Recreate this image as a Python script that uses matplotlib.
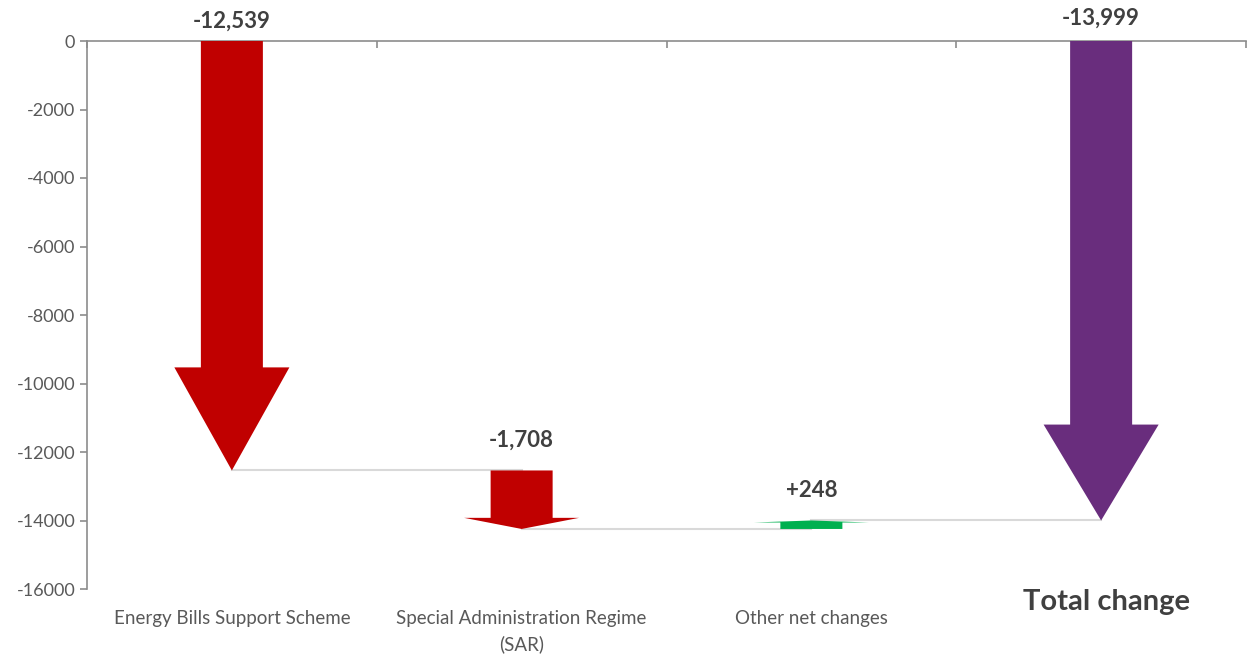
import numpy as np
import matplotlib.pyplot as plt
from matplotlib.patches import Polygon

plt.rcParams["font.family"] = ["Lato", "DejaVu Sans"]

# data
categories = ["Energy Bills Support Scheme", "Special Administration Regime\n(SAR)", "Other net changes"]
changes = [-12539, -1708, 248]
total_label = "Total change"
value_labels = ["-12,539", "-1,708", "+248", "-13,999"]
yticks = np.arange(-16000, 1, 2000)

RED = "#C00000"
GREEN = "#00B050"
PURPLE = "#692D7D"
TEXT = "#404040"
AXIS = "#8C8C8C"


def draw_arrow(ax, x, start, end, color, head_frac, shaft_w=0.214, head_w=0.397):
    """Block arrow from start to end (data units) centred at x."""
    length = end - start
    neck = end - length * head_frac
    pts = [
        (x - shaft_w / 2, start), (x + shaft_w / 2, start),
        (x + shaft_w / 2, neck), (x + head_w / 2, neck),
        (x, end),
        (x - head_w / 2, neck), (x - shaft_w / 2, neck),
    ]
    ax.add_patch(Polygon(pts, closed=True, facecolor=color, edgecolor="none", zorder=3))


fig = plt.figure(figsize=(12.49, 6.55), dpi=100)
ax = fig.add_axes([87 / 1249, 1 - 589 / 655, (1246 - 87) / 1249, 548 / 655])

starts = np.concatenate([[0], np.cumsum(changes)[:-1]])
ends = np.cumsum(changes)
total = ends[-1]

all_starts = list(starts) + [0]
all_ends = list(ends) + [total]
colors = [RED if c < 0 else GREEN for c in changes] + [PURPLE]
head_fracs = [0.24, 0.19, 0.24, 0.2]
label_offsets = [7, 14, 14, 9]

for i, (s, e, c, hf) in enumerate(zip(all_starts, all_ends, colors, head_fracs)):
    draw_arrow(ax, i, s, e, c, hf)
    top = max(s, e)
    ax.annotate(value_labels[i], (i, top), xytext=(0, label_offsets[i]), textcoords="offset points",
                ha="center", va="bottom", fontsize=16, fontweight="bold", color=TEXT,
                annotation_clip=False)

# connectors
for i, e in enumerate(ends):
    ax.plot([i, i + 1], [e, e], color="#D9D9D9", lw=1.5, zorder=1)

ax.set_xlim(-0.5, 3.5)
ax.set_ylim(-16000, 0)
ax.set_yticks(yticks)
ax.set_yticklabels([str(v) for v in yticks])
ax.tick_params(axis="y", colors=AXIS, labelcolor="#595959", labelsize=13, length=5, width=1.2)

ax.xaxis.tick_top()
ax.set_xticks(np.arange(-0.5, 3.6, 1.0))
ax.set_xticklabels([])
ax.tick_params(axis="x", direction="in", colors=AXIS, length=5, width=1.2)

ax.spines["bottom"].set_visible(False)
ax.spines["right"].set_visible(False)
for sp in ("top", "left"):
    ax.spines[sp].set_color(AXIS)
    ax.spines[sp].set_linewidth(1.2)

for i, name in enumerate(categories):
    ax.text(i, -16600, name, ha="center", va="top", fontsize=13.5, color="#595959",
            linespacing=1.6)
ax.text(3.02, -16000, total_label, ha="center", va="top", fontsize=21, fontweight="bold",
        color=TEXT)

fig.savefig("out.png", dpi=100)
